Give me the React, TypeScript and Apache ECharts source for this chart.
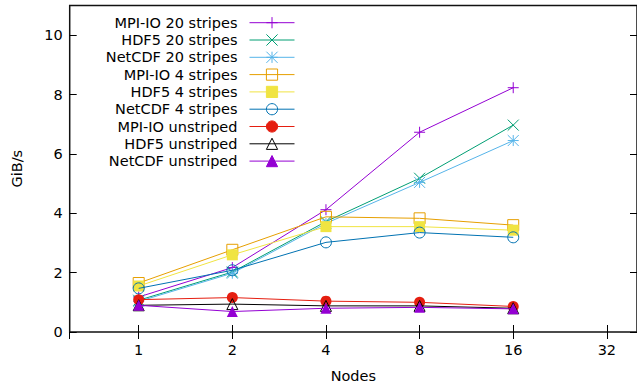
import React, { useEffect, useRef } from "react";
import * as echarts from "echarts";

const nodes = [1, 2, 4, 8, 16];
const xTicks = [1, 2, 4, 8, 16, 32];

const mpiio20 = [1.18, 2.17, 4.12, 6.73, 8.23];
const hdf520 = [1.07, 2.02, 3.72, 5.18, 6.97];
const netcdf20 = [1.03, 1.98, 3.66, 5.04, 6.45];
const mpiio4 = [1.65, 2.77, 3.88, 3.83, 3.6];
const hdf54 = [1.55, 2.6, 3.55, 3.55, 3.43];
const netcdf4 = [1.47, 2.08, 3.02, 3.35, 3.19];
const mpiioU = [1.09, 1.16, 1.04, 1.0, 0.86];
const hdf5U = [0.9, 0.94, 0.88, 0.88, 0.8];
const netcdfU = [0.9, 0.69, 0.8, 0.83, 0.78];

const seriesNames = [
  "MPI-IO 20 stripes",
  "HDF5 20 stripes",
  "NetCDF 20 stripes",
  "MPI-IO 4 stripes",
  "HDF5 4 stripes",
  "NetCDF 4 stripes",
  "MPI-IO unstriped",
  "HDF5 unstriped",
  "NetCDF unstriped",
];
const seriesValues = [mpiio20, hdf520, netcdf20, mpiio4, hdf54, netcdf4, mpiioU, hdf5U, netcdfU];
const colors = ["#9400d3", "#009e73", "#56b4e9", "#e69f00", "#f0e442", "#0072b2", "#e51e10", "#000000", "#9400d3"];

const PLUS = "path://M0,5L10,5M5,0L5,10";
const CROSS = "path://M0,0L10,10M10,0L0,10";
const STAR = "path://M0,5L10,5M5,0L5,10M0,0L10,10M10,0L0,10";
// [symbol, filled]
const markers: [string, boolean][] = [
  [PLUS, false],
  [CROSS, false],
  [STAR, false],
  ["rect", false],
  ["rect", true],
  ["circle", false],
  ["circle", true],
  ["triangle", false],
  ["triangle", true],
];

const FONT = "DejaVu Sans";

export default function App() {
  const ref = useRef<HTMLDivElement>(null);
  useEffect(() => {
    if (!ref.current) return;
    const chart = echarts.init(ref.current, undefined, { renderer: "svg" });
    const series = seriesNames.map((name, i) => {
      const [sym, filled] = markers[i];
      const c = colors[i];
      return {
        name,
        type: "line",
        data: nodes.map((n, j) => [n, seriesValues[i][j]]),
        symbol: sym,
        symbolSize: 11,
        showAllSymbol: true,
        lineStyle: { color: c, width: 1 },
        itemStyle: filled
          ? { color: c, borderColor: c, borderWidth: 0 }
          : { color: "transparent", borderColor: c, borderWidth: 1 },
        emphasis: { disabled: true },
        z: 2 + i,
      };
    });
    const tickStyle = { lineStyle: { color: "#000", width: 1 } };
    chart.setOption({
      animation: false,
      textStyle: { fontFamily: FONT },
      grid: {
        left: 69.7,
        right: -2.6,
        top: 5.5,
        bottom: 55,
        show: true,
        borderColor: "#111",
        borderWidth: 1.5,
        backgroundColor: "transparent",
      },
      legend: {
        orient: "vertical",
        align: "right",
        right: 342,
        top: 15.2,
        padding: 0,
        itemWidth: 45,
        itemHeight: 14,
        itemGap: 2.3,
        data: seriesNames,
        lineStyle: { width: 1 },
        itemStyle: { borderWidth: 1 },
        textStyle: {
          fontFamily: FONT,
          fontSize: 14.5,
          color: "#000",
          lineHeight: 14,
          padding: [0, 7, 0, 0],
        },
      },
      xAxis: [
        {
          type: "log",
          logBase: 2,
          min: 0.6,
          max: 40,
          name: "Nodes",
          nameLocation: "middle",
          nameGap: 36,
          nameTextStyle: { fontFamily: FONT, fontSize: 14.5, color: "#000" },
          axisLine: { show: false },
          axisTick: { inside: true, length: 7, ...tickStyle },
          splitLine: { show: false },
          axisLabel: {
            fontFamily: FONT,
            fontSize: 14.5,
            color: "#000",
            margin: 10,
            showMinLabel: false,
            showMaxLabel: false,
            formatter: (v: number) => {
              const r = Math.round(v);
              return xTicks.includes(r) && Math.abs(v - r) < 0.01 ? String(r) : "";
            },
          },
        },
        {
          type: "log",
          logBase: 2,
          min: 0.6,
          max: 40,
          position: "top",
          axisLine: { show: false },
          axisTick: { inside: true, length: 7, ...tickStyle },
          splitLine: { show: false },
          axisLabel: { show: false },
        },
      ],
      yAxis: [
        {
          type: "value",
          min: 0,
          max: 11,
          interval: 2,
          name: "GiB/s",
          nameLocation: "middle",
          nameGap: 45,
          nameTextStyle: { fontFamily: FONT, fontSize: 14.5, color: "#000" },
          axisLine: { show: false },
          axisTick: { show: true, inside: true, length: 7, ...tickStyle },
          splitLine: { show: false },
          axisLabel: {
            fontFamily: FONT,
            fontSize: 14.5,
            color: "#000",
            margin: 7,
            showMaxLabel: false,
          },
        },
        {
          type: "value",
          min: 0,
          max: 11,
          interval: 2,
          position: "right",
          axisLine: { show: false },
          axisTick: { show: true, inside: true, length: 7, ...tickStyle },
          splitLine: { show: false },
          axisLabel: { show: false },
        },
      ],
      series,
    });
    return () => chart.dispose();
  }, []);
  return (
    <div
      ref={ref}
      style={{ position: "fixed", left: 0, top: 0, width: 637, height: 388, background: "#fff" }}
    />
  );
}
